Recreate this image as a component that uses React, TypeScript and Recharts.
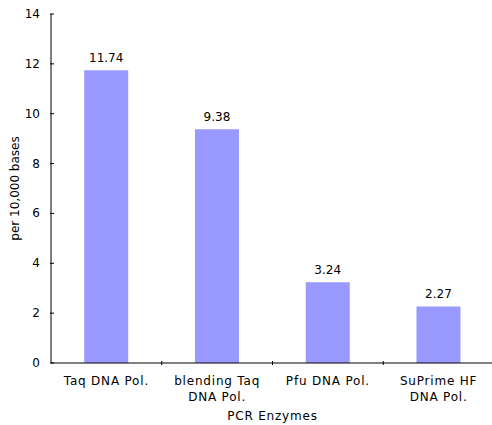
import React from "react";
import { BarChart, Bar, XAxis, YAxis, LabelList, Label } from "recharts";

const categories = ["Taq DNA Pol.", "blending Taq DNA Pol.", "Pfu DNA Pol.", "SuPrime HF DNA Pol."];
const categoryLines = [["Taq DNA Pol."], ["blending Taq", "DNA Pol."], ["Pfu DNA Pol."], ["SuPrime HF", "DNA Pol."]];
const errorRates = [11.74, 9.38, 3.24, 2.27];
const yTicks = [0, 2, 4, 6, 8, 10, 12, 14];

const data = categories.map((name, i) => ({ name, value: errorRates[i] }));

const FONT = "'DejaVu Sans', Verdana, sans-serif";
const LS = 0.8;

const CategoryTick = (props: any) => {
  const { x, y, payload, index } = props;
  const half = payload && payload.offset != null ? payload.offset : props.width / props.visibleTicksCount / 2;
  const lines = categoryLines[index] || [String(payload.value)];
  return (
    <g>
      <line x1={x + half} x2={x + half} y1={y - 2} y2={y + 2} stroke="#000" strokeWidth={1} />
      <text x={x} y={y} textAnchor="middle" fontSize={12} fontFamily={FONT} fill="#000" letterSpacing={LS}>
        {lines.map((l, i) => (
          <tspan key={i} x={x} y={y + 22 + i * 16}>
            {l}
          </tspan>
        ))}
      </text>
    </g>
  );
};

const ValueTick = (props: any) => {
  const { x, y, payload } = props;
  return (
    <g>
      <line x1={x - 1} x2={x + 3} y1={y} y2={y} stroke="#000" strokeWidth={1} />
      <text x={x - 11} y={y + 4} textAnchor="end" fontSize={12} fontFamily={FONT} fill="#000">
        {payload.value}
      </text>
    </g>
  );
};

export default function App() {
  return (
    <div style={{ position: "absolute", left: 0, top: 0, width: 492, height: 425, background: "#fff" }}>
      <BarChart
        width={492}
        height={425}
        data={data}
        margin={{ top: 14, right: -2, bottom: 0, left: 0 }}
        barCategoryGap="30%"
      >
        <XAxis
          dataKey="name"
          height={62}
          axisLine={{ stroke: "#000" }}
          tickLine={false}
          tickSize={0}
          tickMargin={0}
          tick={<CategoryTick />}
          interval={0}
        >
          <Label
            value="PCR Enzymes"
            position="insideBottom"
            offset={5}
            fontSize={12}
            fontFamily={FONT}
            fill="#000"
            letterSpacing={LS}
          />
        </XAxis>
        <YAxis
          width={51}
          domain={[0, 14]}
          ticks={yTicks}
          interval={0}
          axisLine={{ stroke: "#000" }}
          tickLine={false}
          tickSize={0}
          tickMargin={0}
          tick={<ValueTick />}
        >
          <Label
            value="per 10,000 bases"
            angle={-90}
            position="insideLeft"
            offset={15}
            style={{ textAnchor: "middle" }}
            fontSize={12}
            fontFamily={FONT}
            fill="#000"
          />
        </YAxis>
        <Bar dataKey="value" fill="#9999ff" isAnimationActive={false}>
          <LabelList dataKey="value" position="top" offset={8} fontSize={12} fontFamily={FONT} fill="#000" />
        </Bar>
      </BarChart>
    </div>
  );
}
